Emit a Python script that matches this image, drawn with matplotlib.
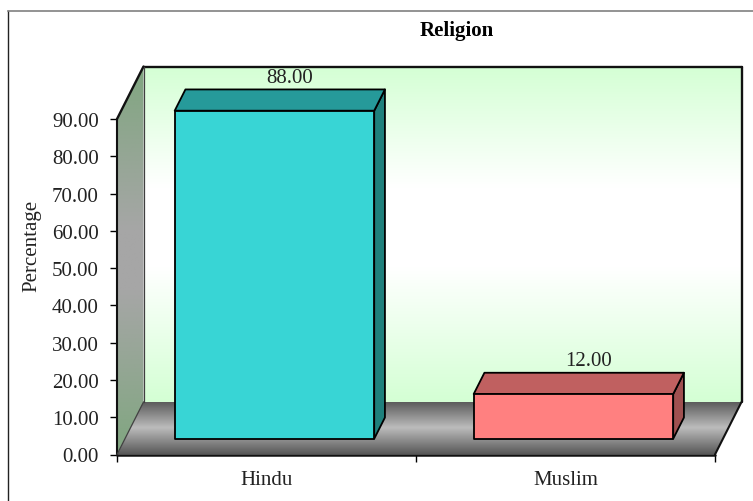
import numpy as np
import matplotlib
matplotlib.use('Agg')
import matplotlib.pyplot as plt
from matplotlib.colors import LinearSegmentedColormap
from matplotlib.lines import Line2D
from matplotlib.patches import Polygon

categories = ['Hindu', 'Muslim']
percentages = [88.00, 12.00]
y_ticks = [0, 10, 20, 30, 40, 50, 60, 70, 80, 90]

front_colors = ['#38d5d5', '#ff8080']
top_colors = ['#269a9a', '#c06060']
side_colors = ['#1f807c', '#a05050']

plt.rcParams['font.family'] = ['Liberation Serif', 'DejaVu Serif']
plt.rcParams['font.size'] = 15

W, H = 753, 502
fig = plt.figure(figsize=(W / 100, H / 100), dpi=100)
ax = fig.add_axes([117 / W, 1 - 455.5 / H, 598 / W, 335.5 / H])
ax.set_xlim(0, 2)
ax.set_ylim(0, 90)

# one full step back along the chart depth, in data units
depth_x = 26.5 / 299
depth_y = 52.5 / (335.5 / 90)


def proj(x, y, d=0.0):
    return (x + d * depth_x, y + d * depth_y)


def gradient_poly(points, colors, stops):
    # vertical gradient image clipped to a polygon
    cmap = LinearSegmentedColormap.from_list('g', list(zip(stops, colors)), N=1024)
    xs = [p[0] for p in points]
    ys = [p[1] for p in points]
    grad = np.linspace(0, 1, 512).reshape(-1, 1)
    im = ax.imshow(grad, cmap=cmap, aspect='auto', origin='upper',
                   extent=(min(xs), max(xs), min(ys), max(ys)),
                   interpolation='bilinear', zorder=1)
    poly = Polygon(points, transform=ax.transData, fill=False, edgecolor='none', clip_on=False)
    ax.add_patch(poly)
    im.set_clip_box(fig.bbox)
    im.set_clip_path(poly)


# back wall
wall = [proj(0, 0, 1), proj(2, 0, 1), proj(2, 90, 1), proj(0, 90, 1)]
gradient_poly(wall, ['#d4ffd4', '#ffffff', '#ffffff', '#d4ffd4'], [0, 0.36, 0.6, 1])

# left wall
side = [proj(0, 0), proj(0, 0, 1), proj(0, 90, 1), proj(0, 90)]
gradient_poly(side, ['#80a680', '#a6a6a6', '#a6a6a6', '#80a680'], [0, 0.42, 0.58, 1])

# floor
floor = [proj(0, 0), proj(2, 0), proj(2, 0, 1), proj(0, 0, 1)]
gradient_poly(floor, ['#585858', '#bcbcbc', '#585858'], [0, 0.5, 1])

ax.set_xlim(0, 2)
ax.set_ylim(0, 90)

# box outlines
outline = dict(color='#111111', clip_on=False, zorder=2, solid_capstyle='round')
for a, b, lw in [(proj(0, 90), proj(0, 90, 1), 1.7),
                 (proj(0, 90, 1), proj(2, 90, 1), 1.7),
                 (proj(2, 90, 1), proj(2, 0, 1), 1.7),
                 (proj(2, 0, 1), proj(2, 0), 1.5),
                 (proj(2, 0), proj(0, 0), 1.8),
                 (proj(0, 0), proj(0, 90), 1.5)]:
    ax.plot([a[0], b[0]], [a[1], b[1]], lw=lw, **outline)
for a, b in [(proj(0, 0), proj(0, 0, 1)), (proj(0, 0, 1), proj(0, 90, 1))]:
    ax.plot([a[0], b[0]], [a[1], b[1]], color='#404040', lw=0.9, clip_on=False, zorder=2)

# bars
bar_width = 199.5 / 299
near, far = 0.30, 0.705
for i, value in enumerate(percentages):
    x0 = i + 0.5 - bar_width / 2
    x1 = x0 + bar_width
    faces = [
        ([proj(x1, 0, near), proj(x1, 0, far), proj(x1, value, far), proj(x1, value, near)], side_colors[i]),
        ([proj(x0, value, near), proj(x1, value, near), proj(x1, value, far), proj(x0, value, far)], top_colors[i]),
        ([proj(x0, 0, near), proj(x1, 0, near), proj(x1, value, near), proj(x0, value, near)], front_colors[i]),
    ]
    for pts, color in faces:
        ax.add_patch(Polygon(pts, closed=True, facecolor=color, edgecolor='black',
                             linewidth=1.3, joinstyle='round', clip_on=False, zorder=3))
    lx, ly = proj(i + 0.5, value, far)
    ax.annotate('%.2f' % value, (lx, ly), xytext=(3, 2), textcoords='offset points',
                ha='center', va='bottom', color='#222222', annotation_clip=False, zorder=4)

# axes
for s in ax.spines.values():
    s.set_visible(False)
ax.patch.set_visible(False)
ax.set_yticks(y_ticks)
ax.set_yticklabels(['%.2f' % t for t in y_ticks], color='#222222')
ax.set_xticks([0, 1, 2])
ax.set_xticklabels([])
ax.set_xticks([0.5, 1.5], minor=True)
ax.set_xticklabels(categories, minor=True, color='#222222')
ax.tick_params(axis='y', length=5, width=1, pad=8, color='black')
ax.tick_params(axis='x', which='major', length=5, width=1, color='black')
ax.tick_params(axis='x', which='minor', length=0, pad=11.5)
ax.set_ylabel('Percentage', color='#222222', labelpad=8, y=0.626)

fig.text(456.5 / W, 1 - 31.5 / H, 'Religion', ha='center', va='center',
         fontweight='bold', color='black')

# frame around the chart, left and top only
fig.add_artist(Line2D([8 / W, 8 / W], [0, 1 - 12 / H], color='#222222', lw=1.0))
fig.add_artist(Line2D([8 / W, 1], [1 - 12 / H, 1 - 12 / H], color='#808080', lw=1.2))

fig.savefig('out.png', dpi=100)
